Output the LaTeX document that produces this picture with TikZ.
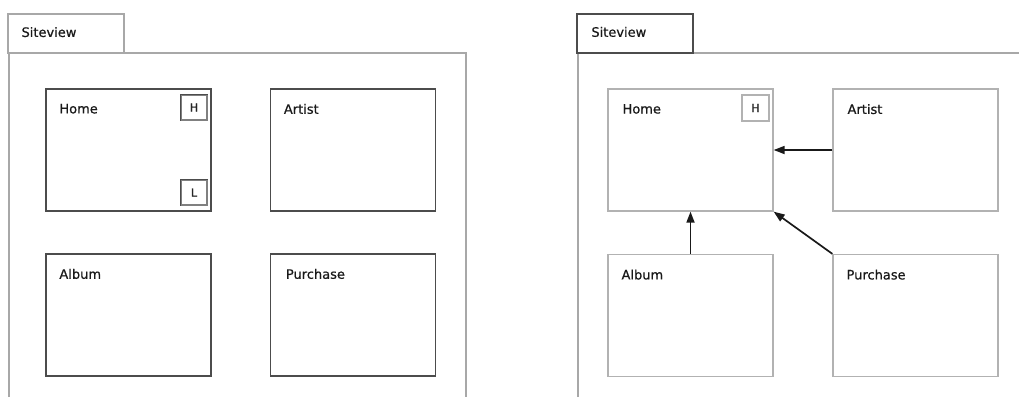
\documentclass[tikz,border=0pt]{standalone}
\usepackage{fontspec}
\setmainfont{DejaVu Sans}[UprightFeatures={FakeBold=0.6}]
\usetikzlibrary{arrows.meta,positioning}

\definecolor{framegray}{gray}{0.66}
\definecolor{darkbox}{gray}{0.3}
\definecolor{lightbox}{gray}{0.7}
\definecolor{arrowink}{gray}{0.1}

\tikzset{
  pagebox/.style={draw, rectangle, minimum width=165pt, minimum height=122pt, inner sep=0pt, line width=1.6pt},
  darkpage/.style={pagebox, draw=darkbox},
  lightpage/.style={pagebox, draw=lightbox, line width=1.3pt},
  tabbox/.style={draw, rectangle, minimum width=116pt, minimum height=39pt, inner sep=0pt},
  marker/.style={draw, rectangle, minimum width=26pt, minimum height=25pt, inner sep=0pt, font=\fontsize{11}{12}\selectfont, text=black!85},
  caption/.style={anchor=north west, inner sep=0pt, font=\fontsize{13}{15}\selectfont, text=black!90},
  frameline/.style={draw=framegray, line width=1.3pt},
  linkarrow/.style={draw=arrowink, line width=1.7pt, -{Triangle[length=11pt,width=8pt]}}
}

\begin{document}
\begin{tikzpicture}[x=1pt,y=-1pt]
\useasboundingbox[fill=white] (0,0) rectangle (1019,397);

% ---------- left site view ----------
\coordinate (lfA) at (9,397);
\coordinate (lfB) at (9,53);
\coordinate (lfC) at (466,53);
\coordinate (lfD) at (466,397);
\draw[frameline] (lfA) -- (lfB) -- (lfC) -- (lfD);
\node[tabbox, draw=framegray, line width=1.3pt] (ltab) at (66,33.5) {};
\node[caption] (ltabtext) at ([xshift=14pt,yshift=-13.5pt]ltab.north west) {Siteview};

\node[darkpage] (lhome) at (128.5,150) {};
\node[darkpage] (lartist) at (353,150) {};
\node[darkpage] (lalbum) at (128.5,315) {};
\node[darkpage] (lpurchase) at (353,315) {};

\node[caption] (lhomet) at ([xshift=14pt,yshift=-15.5pt]lhome.north west) {Home};
\node[caption] (lartistt) at ([xshift=14pt,yshift=-15.5pt]lartist.north west) {Artist};
\node[caption] (lalbumt) at ([xshift=14pt,yshift=-15.5pt]lalbum.north west) {Album};
\node[caption] (lpurchaset) at ([xshift=16pt,yshift=-15.5pt]lpurchase.north west) {Purchase};

\node[marker, draw=gray, line width=1.2pt] (lmh) at (194,107.5) {H};
\node[marker, draw=gray, line width=1.2pt] (lml) at (194,192.5) {L};
% darker top and left edges of the two markers
\draw[darkbox, line width=1.6pt] (lmh.south west) -- (lmh.north west) -- (lmh.north east);
\draw[darkbox, line width=1.6pt] (lml.south west) -- (lml.north west) -- (lml.north east);

% ---------- right site view ----------
\coordinate (rfA) at (578,397);
\coordinate (rfB) at (578,53);
\coordinate (rfC) at (1019,53);
\draw[frameline] (rfA) -- (rfB) -- (rfC);
\node[tabbox, draw=darkbox, line width=1.6pt] (rtab) at (635,33.5) {};
\node[caption] (rtabtext) at ([xshift=15pt,yshift=-13.5pt]rtab.north west) {Siteview};

\node[lightpage] (rhome) at (690.5,150) {};
\node[lightpage] (rartist) at (915.5,150) {};
\node[lightpage] (ralbum) at (690.5,315.5) {};
\node[lightpage] (rpurchase) at (915.5,315.5) {};

\node[caption] (rhomet) at ([xshift=15pt,yshift=-15.5pt]rhome.north west) {Home};
\node[caption] (rartistt) at ([xshift=15pt,yshift=-15.5pt]rartist.north west) {Artist};
\node[caption] (ralbumt) at ([xshift=14pt,yshift=-15.5pt]ralbum.north west) {Album};
\node[caption] (rpurchaset) at ([xshift=14pt,yshift=-15.5pt]rpurchase.north west) {Purchase};

\node[marker, draw=lightbox, line width=1.3pt, minimum width=27pt, minimum height=26pt] (rmh) at (755.5,108) {H};

% links into the home page
\draw[linkarrow] (rartist.west) -- (rhome.east);
\draw[linkarrow] (ralbum.north) -- (rhome.south);
\draw[linkarrow] (rpurchase.north west) -- (rhome.south east);
\end{tikzpicture}
\end{document}
